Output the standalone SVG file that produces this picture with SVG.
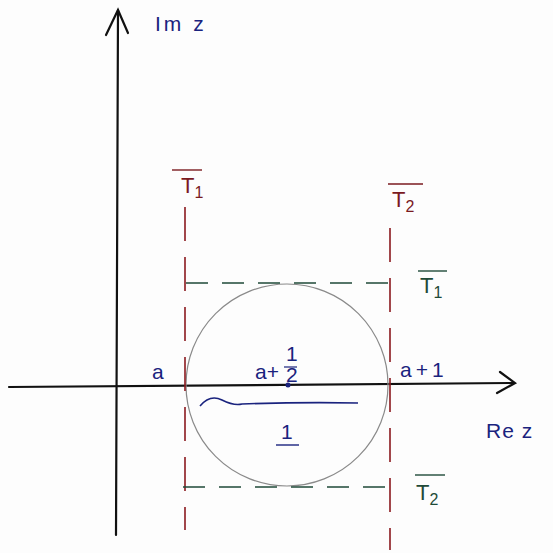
<svg xmlns="http://www.w3.org/2000/svg" width="553" height="553" viewBox="0 0 553 553">
<style>
.ax{stroke:#111;stroke-width:2.2;fill:none;stroke-linecap:round}
.red{stroke:#8b1a1f;stroke-width:1.6;fill:none;stroke-dasharray:34 16}
.grn{stroke:#1f4a38;stroke-width:1.6;fill:none;stroke-dasharray:22 14}
.circ{stroke:#8a8a8a;stroke-width:1.2;fill:none}
.blue{font-family:"Liberation Sans",Arial,sans-serif;fill:#1a237e;font-size:21px}
.tr{font-family:"Liberation Sans",Arial,sans-serif;fill:#7a1a1f;font-size:22px}
.tg{font-family:"Liberation Sans",Arial,sans-serif;fill:#1f4a38;font-size:22px}
.sub{font-size:16px}
.ol{stroke-width:1.4;fill:none}
</style>
<rect width="553" height="553" fill="#fdfdfd"/>
<g id="axes">
<path class="ax" d="M116 535 L118 10"/>
<path class="ax" d="M106 35 L118 10 L128 33"/>
<path class="ax" d="M9 387 L513 383"/>
<path class="ax" d="M500 372 L515 383 L497 393"/>
</g>
<g id="circle"><circle class="circ" cx="287" cy="385" r="101"/></g>
<g id="connectors">
<path class="red" d="M185 207 V530"/>
<path class="red" d="M390 218 V550" style="stroke-dashoffset:-10"/>
<path class="grn" d="M186 283 H398"/>
<path class="grn" d="M183 487 H387"/>
<path d="M200 406 Q210 394 222 400 T242 404 Q300 402 358 403" stroke="#1a237e" stroke-width="1.6" fill="none"/>
<path d="M276 445 H299" stroke="#1a237e" stroke-width="1.4"/>
<circle cx="288" cy="385" r="2.5" fill="#1a237e"/>
</g>
<g id="labels">
<text class="blue" x="155" y="31" font-size="27" letter-spacing="3">Im z</text>
<g id="T1top"><path d="M172 170 H202" stroke="#7a1a1f" class="ol"/><text class="tr" x="181" y="193">T<tspan class="sub" dy="5">1</tspan></text></g>
<g id="T2top"><path d="M388 184 H423" stroke="#7a1a1f" class="ol"/><text class="tr" x="392" y="207">T<tspan class="sub" dy="5">2</tspan></text></g>
<g id="T1right"><path d="M418 271 H447" stroke="#1f4a38" class="ol"/><text class="tg" x="420" y="293">T<tspan class="sub" dy="5">1</tspan></text></g>
<g id="T2bottom"><path d="M415 475 H445" stroke="#1f4a38" class="ol"/><text class="tg" x="416" y="500">T<tspan class="sub" dy="5">2</tspan></text></g>
<text class="blue" x="152" y="379" font-size="22">a</text>
<text class="blue" x="255" y="379" font-size="22">a+</text>
<text class="blue" x="286" y="361" font-size="12">1</text>
<path d="M284 367 H297" stroke="#1a237e" stroke-width="1.2"/>
<text class="blue" x="286" y="382" font-size="12">2</text>
<text class="blue" x="400" y="377" font-size="23" letter-spacing="4">a+1</text>
<text class="blue" x="281" y="439">1</text>
<text class="blue" x="486" y="438" font-size="29" letter-spacing="1">Re z</text>
</g>
</svg>
